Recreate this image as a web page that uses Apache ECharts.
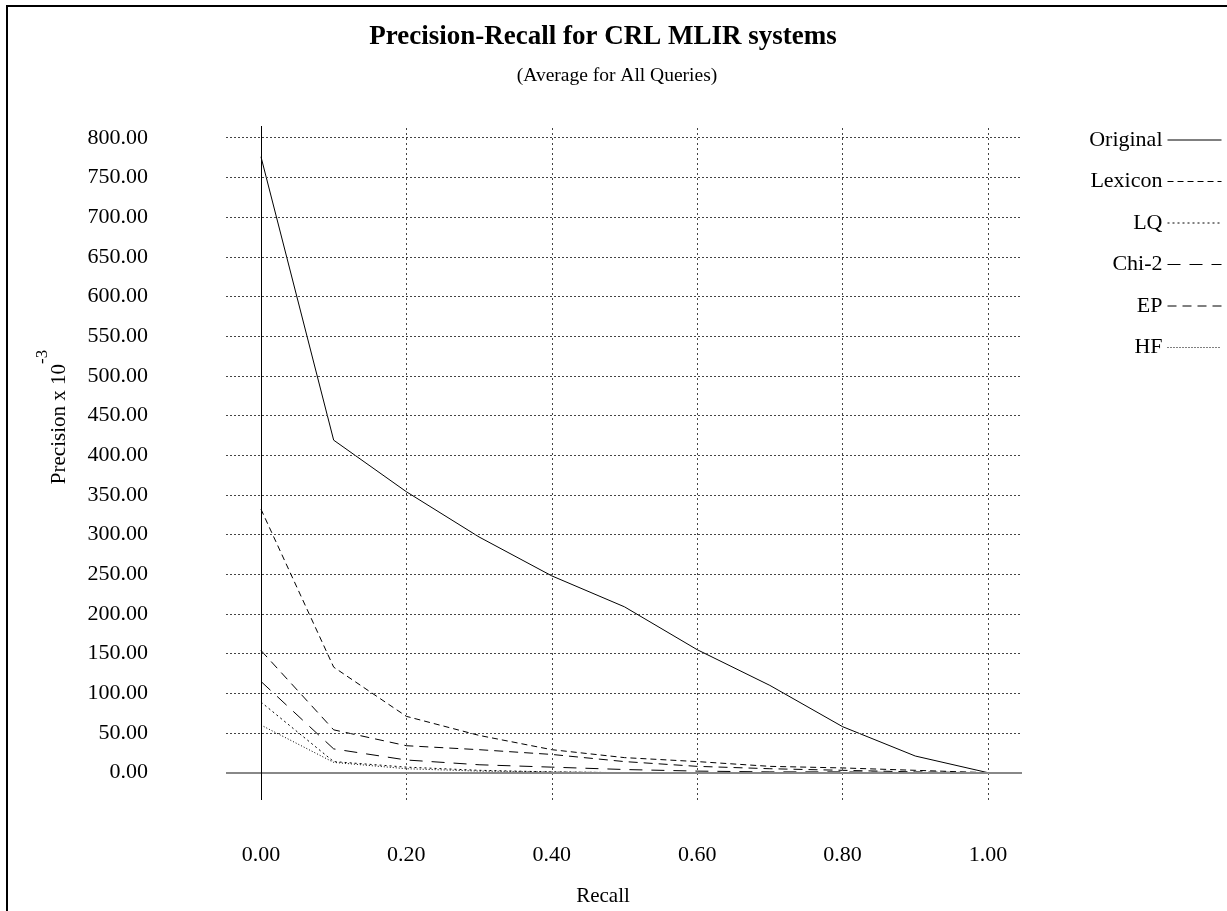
<!DOCTYPE html>
<html>
<head>
<meta charset="utf-8">
<script src="https://cdn.jsdelivr.net/npm/echarts@6/dist/echarts.min.js"></script>
<style>
  html, body { margin: 0; padding: 0; background: #fff; }
  #chart { width: 1227px; height: 911px; }
</style>
</head>
<body>
<div id="chart"></div>
<script>
var recall = [0, 0.1, 0.2, 0.3, 0.4, 0.5, 0.6, 0.7, 0.8, 0.9, 1.0];
var original = [776, 419, 354, 297, 248, 209, 155, 110, 58, 21, 0];
var lexicon = [332, 133, 71, 47, 29, 19, 14, 8, 6, 3, 0];
var lq = [89, 14, 7, 3, 1, 0, 0, 0, 0, 0, 0];
var chi2 = [115, 30, 16, 10, 7, 4, 2, 1, 1, 0, 0];
var ep = [154, 54, 34, 29, 23, 14, 8, 5, 3, 1, 0];
var hf = [60, 13, 5, 2, 1, 0, 0, 0, 0, 0, 0];

var xTicks = [0, 0.2, 0.4, 0.6, 0.8, 1.0];
var yTicks = [0, 50, 100, 150, 200, 250, 300, 350, 400, 450, 500, 550, 600, 650, 700, 750, 800];

var serif = 'Liberation Serif';

function pairs(values) {
    return values.map(function(v, i) { return [recall[i], v]; });
}

function lineSeries(name, values, dash) {
    return {
        name: name,
        type: 'line',
        data: pairs(values),
        symbol: 'none',
        animation: false,
        itemStyle: { color: '#000' },
        lineStyle: { color: '#000', width: 1, type: dash }
    };
}

var gridMarks = [];
yTicks.forEach(function(v) {
    if (v !== 0) gridMarks.push({ yAxis: v, lineStyle: { color: '#444', width: 1, type: [2, 2] } });
});
xTicks.forEach(function(v) {
    if (v !== 0) gridMarks.push({ xAxis: v, lineStyle: { color: '#444', width: 1, type: [2, 3] } });
});
gridMarks.push({ yAxis: 0, lineStyle: { color: '#888', width: 2, type: 'solid' } });
gridMarks.push({ xAxis: 0, lineStyle: { color: '#000', width: 1, type: 'solid' } });

var option = {
    backgroundColor: '#fff',
    textStyle: { fontFamily: serif, color: '#000' },
    title: [
        {
            text: 'Precision-Recall for CRL MLIR systems',
            left: 598,
            textAlign: 'center',
            top: 19,
            textStyle: { fontFamily: serif, fontSize: 27, fontWeight: 'bold', color: '#000' }
        },
        {
            text: '(Average for All Queries)',
            left: 612,
            textAlign: 'center',
            top: 61,
            textStyle: { fontFamily: serif, fontSize: 19.5, fontWeight: 'normal', color: '#000' }
        }
    ],
    legend: {
        data: ['Original', 'Lexicon', 'LQ', 'Chi-2', 'EP', 'HF'],
        orient: 'vertical',
        right: 0,
        top: 124,
        align: 'right',
        itemWidth: 54,
        itemHeight: 21,
        itemGap: 19.5,
        itemStyle: { opacity: 0 },
        lineStyle: { width: 1, color: '#000' },
        textStyle: { fontFamily: serif, fontSize: 22, color: '#000', lineHeight: 20 }
    },
    grid: { left: 226, right: 205, top: 126, bottom: 111 },
    xAxis: {
        type: 'value',
        min: -0.0481,
        max: 1.0468,
        axisLine: { show: false },
        axisTick: { show: false },
        splitLine: { show: false },
        axisLabel: {
            customValues: xTicks,
            margin: 44,
            fontFamily: serif,
            fontSize: 22,
            color: '#000',
            formatter: function(v) { return v.toFixed(2); }
        }
    },
    yAxis: {
        type: 'value',
        min: -34.4,
        max: 814.8,
        axisLine: { show: false },
        axisTick: { show: false },
        splitLine: { show: false },
        axisLabel: {
            customValues: yTicks,
            margin: 78,
            fontFamily: serif,
            fontSize: 22,
            color: '#000',
            padding: [0, 0, 10, 0],
            formatter: function(v) { return v.toFixed(2); }
        }
    },
    graphic: [
        {
            type: 'rect',
            shape: { x: 7, y: 6, width: 1400, height: 1000 },
            style: { fill: 'none', stroke: '#000', lineWidth: 2 },
            silent: true
        },
        {
            type: 'text',
            x: 603,
            y: 896,
            style: {
                text: 'Recall',
                fontFamily: serif,
                fontSize: 21,
                fill: '#000',
                align: 'center',
                verticalAlign: 'middle'
            }
        },
        {
            type: 'text',
            x: 52,
            y: 417,
            rotation: Math.PI / 2,
            style: {
                text: '{a|Precision x 10}{b|-3}',
                align: 'center',
                verticalAlign: 'middle',
                rich: {
                    a: { fontFamily: serif, fontSize: 21, fill: '#000', lineHeight: 36, verticalAlign: 'bottom' },
                    b: { fontFamily: serif, fontSize: 17, fill: '#000', verticalAlign: 'top' }
                }
            }
        }
    ],
    series: [
        {
            name: 'grid',
            type: 'line',
            data: [],
            silent: true,
            animation: false,
            markLine: {
                silent: true,
                animation: false,
                symbol: ['none', 'none'],
                label: { show: false },
                data: gridMarks
            }
        },
        lineSeries('Original', original, 'solid'),
        lineSeries('Lexicon', lexicon, [6, 4]),
        lineSeries('LQ', lq, [2, 3]),
        lineSeries('Chi-2', chi2, [13, 9]),
        lineSeries('EP', ep, [9, 6]),
        lineSeries('HF', hf, [1, 2])
    ]
};

window.onload = function() {
    var chart = echarts.init(document.getElementById('chart'));
    chart.setOption(option);
};
</script>
</body>
</html>
